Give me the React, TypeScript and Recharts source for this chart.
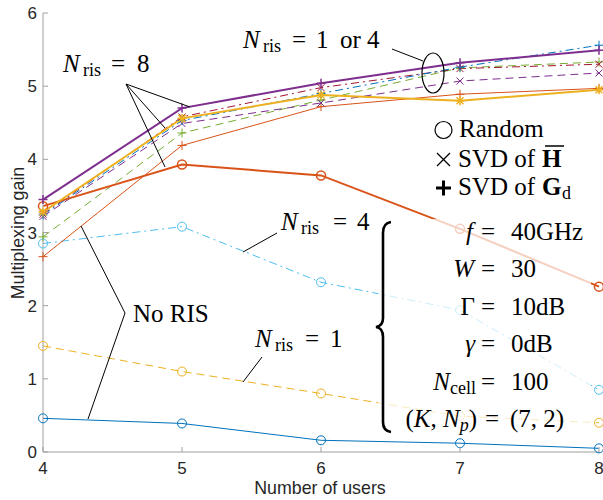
import { LineChart, Line, XAxis, YAxis } from "recharts";

const users = [4, 5, 6, 7, 8];
const xTicks = [4, 5, 6, 7, 8];
const yTicks = [0, 1, 2, 3, 4, 5, 6];

// random RIS configuration
const noRis = [0.46, 0.39, 0.16, 0.12, 0.05];
const ris1Random = [1.45, 1.1, 0.8, 0.49, 0.4];
const ris4Random = [2.85, 3.08, 2.32, 1.94, 0.85];
const ris8Random = [3.36, 3.93, 3.78, 3.05, 2.26];
// N_ris = 8, SVD based
const ris8Gd = [3.45, 4.7, 5.04, 5.32, 5.49];
const ris8H = [3.28, 4.56, 4.88, 4.8, 4.95];
// N_ris = 1 or 4, SVD based
const ris4Gd = [3.24, 4.53, 4.9, 5.26, 5.56];
const ris4H = [3.25, 4.58, 4.98, 5.24, 5.3];
const ris1H = [3.22, 4.49, 4.77, 5.07, 5.18];
const ris1Gd = [2.94, 4.36, 4.81, 5.25, 5.33];
const risGdThin = [2.67, 4.19, 4.72, 4.89, 4.97];

const data = users.map((u, i) => ({
  users: u,
  noRis: noRis[i],
  ris1Random: ris1Random[i],
  ris4Random: ris4Random[i],
  ris8Random: ris8Random[i],
  ris8Gd: ris8Gd[i],
  ris8H: ris8H[i],
  ris4Gd: ris4Gd[i],
  ris4H: ris4H[i],
  ris1H: ris1H[i],
  ris1Gd: ris1Gd[i],
  risGdThin: risGdThin[i],
}));

type Marker = "o" | "x" | "+" | "*";

interface SeriesDef {
  key: string;
  color: string;
  width: number;
  dash?: string;
  marker: Marker;
}

// thin lines first, thick ones on top
const series: SeriesDef[] = [
  { key: "noRis", color: "#0072BD", width: 1, marker: "o" },
  { key: "ris1Random", color: "#EDB120", width: 1, dash: "8 5", marker: "o" },
  { key: "ris4Random", color: "#4DBEEE", width: 1, dash: "8 4 2 4", marker: "o" },
  { key: "risGdThin", color: "#D95319", width: 1, marker: "+" },
  { key: "ris1Gd", color: "#77AC30", width: 1, dash: "8 5", marker: "+" },
  { key: "ris1H", color: "#7E2F8E", width: 1, dash: "8 5", marker: "x" },
  { key: "ris4H", color: "#A2142F", width: 1, dash: "8 4 2 4", marker: "x" },
  { key: "ris4Gd", color: "#0072BD", width: 1, dash: "8 4 2 4", marker: "+" },
  { key: "ris8Random", color: "#D95319", width: 2, marker: "o" },
  { key: "ris8H", color: "#EDB120", width: 2, marker: "*" },
  { key: "ris8Gd", color: "#7E2F8E", width: 2, marker: "+" },
];

const axisColor = "#a0a0a0";
const textColor = "#262626";
const sans = "'Liberation Sans', Arial, sans-serif";
const serif = "'Liberation Serif', 'Times New Roman', serif";

const makeDot = (marker: Marker, color: string, sw: number) => (props: any) => {
  const { cx, cy, index } = props;
  if (cx == null || cy == null) return <g key={index} />;
  const s = 4.5;
  const d = 3.5;
  return (
    <g key={index} stroke={color} strokeWidth={sw} fill="none">
      {marker === "o" && <circle cx={cx} cy={cy} r={4.5} />}
      {(marker === "+" || marker === "*") && (
        <path d={`M${cx - s},${cy}H${cx + s}M${cx},${cy - s}V${cy + s}`} />
      )}
      {(marker === "x" || marker === "*") && (
        <path d={`M${cx - d},${cy - d}L${cx + d},${cy + d}M${cx - d},${cy + d}L${cx + d},${cy - d}`} />
      )}
    </g>
  );
};

const XTick = (props: any) => {
  const { x, y, payload } = props;
  return (
    <g>
      <line x1={x} x2={x} y1={y} y2={y - 5} stroke={axisColor} />
      <text x={x} y={y + 22} textAnchor="middle" fontSize={17} fontFamily={sans} fill={textColor}>
        {payload.value}
      </text>
    </g>
  );
};

const YTick = (props: any) => {
  const { x, y, payload } = props;
  return (
    <g>
      <line x1={x} x2={x + 5} y1={y} y2={y} stroke={axisColor} />
      <text x={x - 6} y={y + 6} textAnchor="end" fontSize={17} fontFamily={sans} fill={textColor}>
        {payload.value}
      </text>
    </g>
  );
};

function Annotations() {
  const fs = 25;
  const sub = 18;
  return (
    <svg
      width={603}
      height={500}
      style={{ position: "absolute", left: 0, top: 0, pointerEvents: "none" }}
      fontFamily={serif}
      fill="#000"
    >
      {/* translucent backdrop of the parameter box */}
      <rect x={378} y={219} width={213} height={218} fill="#fff" opacity={0.72} />

      {/* N_ris = 8 */}
      <text y={72} fontSize={fs}>
        <tspan x={63} fontStyle="italic">N</tspan>
        <tspan x={83} dy={4} fontSize={sub}>ris</tspan>
        <tspan x={111} dy={-4}>=</tspan>
        <tspan x={137}>8</tspan>
      </text>
      <g stroke="#000" strokeWidth={1}>
        <line x1={126} y1={84} x2={190} y2={107} />
        <line x1={126} y1={84} x2={165} y2={128} />
        <line x1={126} y1={84} x2={165} y2={167} />
      </g>

      {/* N_ris = 1 or 4 */}
      <text y={48} fontSize={fs}>
        <tspan x={243} fontStyle="italic">N</tspan>
        <tspan x={263} dy={4} fontSize={sub}>ris</tspan>
        <tspan x={292} dy={-4}>=</tspan>
        <tspan x={316}>1</tspan>
        <tspan x={340}>or</tspan>
        <tspan x={367}>4</tspan>
      </text>
      <line x1={392} y1={49} x2={423} y2={61} stroke="#000" />
      <ellipse cx={433} cy={73} rx={11} ry={20} fill="none" stroke="#000" strokeWidth={1.2} />

      {/* legend of markers */}
      <circle cx={443.5} cy={130} r={8.5} fill="none" stroke="#000" strokeWidth={1.2} />
      <text x={459} y={137} fontSize={fs}>Random</text>
      <path d="M437,153L450,166M437,166L450,153" stroke="#000" strokeWidth={1.3} />
      <text x={458} y={167} fontSize={fs}>SVD of</text>
      <text x={542} y={167} fontSize={fs} fontWeight="bold">H</text>
      <line x1={545} x2={564} y1={146} y2={146} stroke="#000" strokeWidth={1.5} />
      <path d="M436,188H451M443.5,180.5V195.5" stroke="#000" strokeWidth={3} />
      <text x={458} y={195} fontSize={fs}>SVD of</text>
      <text y={195} fontSize={fs}>
        <tspan x={542} fontWeight="bold">G</tspan>
        <tspan x={562} dy={4} fontSize={sub}>d</tspan>
      </text>

      {/* N_ris = 4 */}
      <text y={230} fontSize={fs}>
        <tspan x={281} fontStyle="italic">N</tspan>
        <tspan x={301} dy={4} fontSize={sub}>ris</tspan>
        <tspan x={333} dy={-4}>=</tspan>
        <tspan x={357}>4</tspan>
      </text>
      <line x1={243} y1={252} x2={277} y2={233} stroke="#000" />

      {/* N_ris = 1 */}
      <text y={347} fontSize={fs}>
        <tspan x={255} fontStyle="italic">N</tspan>
        <tspan x={275} dy={4} fontSize={sub}>ris</tspan>
        <tspan x={305} dy={-4}>=</tspan>
        <tspan x={330}>1</tspan>
      </text>
      <line x1={243} y1={382} x2={262} y2={357} stroke="#000" />

      {/* No RIS */}
      <text x={133} y={322} fontSize={fs}>No RIS</text>
      <polyline points="81,226 125,313 88,419" fill="none" stroke="#000" />

      {/* brace */}
      <path
        d="M391,222Q383,223 383,233L383,318Q383,326 376,327Q383,328 383,337L383,422Q383,431 391,432"
        fill="none"
        stroke="#000"
        strokeWidth={2.6}
      />

      {/* parameters */}
      <text x={473} y={240} fontSize={fs} textAnchor="end" fontStyle="italic">f</text>
      <text x={481} y={240} fontSize={fs}>=</text>
      <text x={511} y={240} fontSize={fs}>40GHz</text>

      <text x={474} y={277} fontSize={fs} textAnchor="end" fontStyle="italic">W</text>
      <text x={481} y={277} fontSize={fs}>=</text>
      <text x={511} y={277} fontSize={fs}>30</text>

      <text x={475} y={315} fontSize={fs} textAnchor="end">Γ</text>
      <text x={481} y={315} fontSize={fs}>=</text>
      <text x={511} y={315} fontSize={fs}>10dB</text>

      <text x={475} y={352} fontSize={fs} textAnchor="end" fontStyle="italic">γ</text>
      <text x={481} y={352} fontSize={fs}>=</text>
      <text x={511} y={352} fontSize={fs}>0dB</text>

      <text x={476} y={390} fontSize={fs} textAnchor="end">
        <tspan fontStyle="italic">N</tspan>
        <tspan dy={4} fontSize={sub}>cell</tspan>
      </text>
      <text x={481} y={390} fontSize={fs}>=</text>
      <text x={511} y={390} fontSize={fs}>100</text>

      <text x={477} y={427} fontSize={fs} textAnchor="end">
        <tspan>(</tspan>
        <tspan fontStyle="italic">K</tspan>
        <tspan>, </tspan>
        <tspan fontStyle="italic">N</tspan>
        <tspan dy={4} fontSize={sub} fontStyle="italic">p</tspan>
        <tspan dy={-4}>)</tspan>
      </text>
      <text x={485} y={427} fontSize={fs}>=</text>
      <text x={510} y={427} fontSize={fs}>(7, 2)</text>

      {/* axis titles */}
      <text x={320} y={494} textAnchor="middle" fontSize={17.8} fontFamily={sans} fill={textColor}>
        Number of users
      </text>
      <text
        x={0}
        y={0}
        transform="translate(24,233) rotate(-90)"
        textAnchor="middle"
        fontSize={17.8}
        fontFamily={sans}
        fill={textColor}
      >
        Multiplexing gain
      </text>
    </svg>
  );
}

export default function App() {
  return (
    <div style={{ position: "absolute", left: 0, top: 0, width: 603, height: 500, background: "#fff" }}>
      <LineChart width={603} height={500} data={data} margin={{ top: 13, right: 4, bottom: 0, left: 0 }}>
        <XAxis
          dataKey="users"
          type="number"
          domain={[4, 8]}
          ticks={xTicks}
          height={48}
          stroke={axisColor}
          tickLine={false}
          tickSize={0}
          tickMargin={0}
          tick={<XTick />}
          interval={0}
        />
        <XAxis
          xAxisId="top"
          dataKey="users"
          type="number"
          orientation="top"
          domain={[4, 8]}
          ticks={xTicks}
          height={0}
          mirror
          stroke={axisColor}
          tickSize={5}
          tick={false}
        />
        <YAxis
          type="number"
          domain={[0, 6]}
          ticks={yTicks}
          width={43}
          stroke={axisColor}
          tickLine={false}
          tickSize={0}
          tickMargin={0}
          tick={<YTick />}
          interval={0}
        />
        <YAxis
          yAxisId="right"
          type="number"
          orientation="right"
          domain={[0, 6]}
          ticks={yTicks}
          width={0}
          mirror
          stroke={axisColor}
          tickSize={5}
          tick={false}
        />
        {series.map((s) => (
          <Line
            key={s.key}
            dataKey={s.key}
            type="linear"
            stroke={s.color}
            strokeWidth={s.width}
            strokeDasharray={s.dash}
            dot={makeDot(s.marker, s.color, s.width > 1 ? 1.5 : 1)}
            activeDot={false}
            isAnimationActive={false}
          />
        ))}
      </LineChart>
      <Annotations />
    </div>
  );
}
